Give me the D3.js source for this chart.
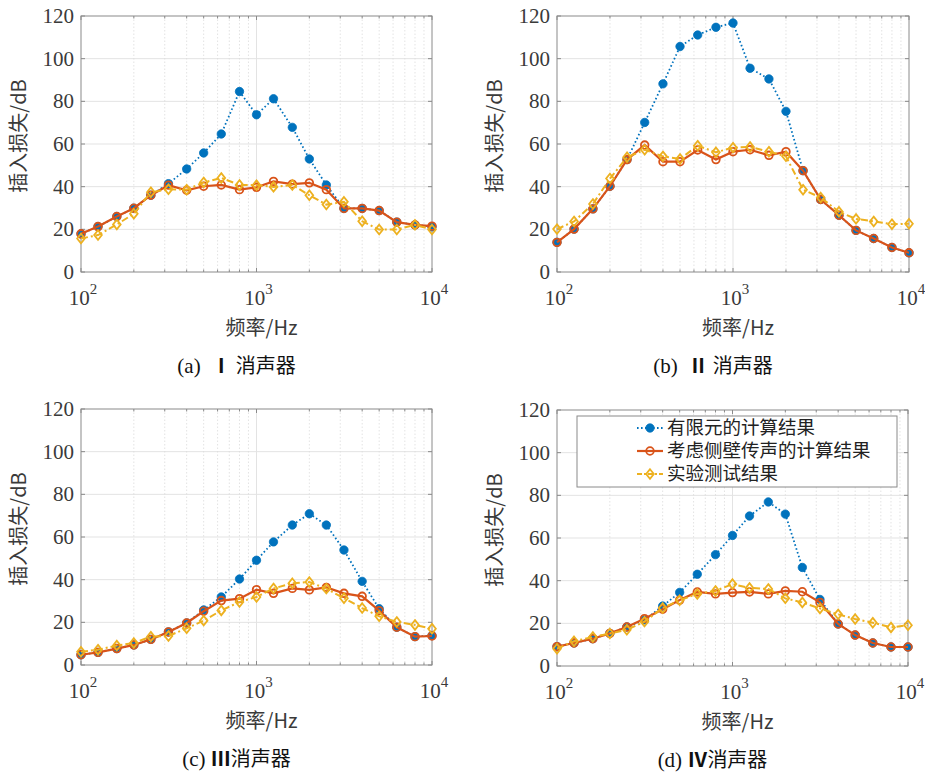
<!DOCTYPE html>
<html>
<head>
<meta charset="utf-8">
<script src="https://cdn.jsdelivr.net/npm/d3@7"></script>
<style>
  body { margin: 0; background: #fff; }
  svg { display: block; }
</style>
</head>
<body>
<div id="chart"></div>
<script>
// 1/3 octave band centre frequencies
const freqs = [100, 125, 160, 200, 250, 315, 400, 500, 630, 800, 1000, 1250, 1600, 2000, 2500, 3150, 4000, 5000, 6300, 8000, 10000];

// (a) muffler I
const femA  = [17.9, 21.3, 26, 29.9, 36, 41.4, 48.3, 55.8, 64.7, 84.6, 73.7, 81.2, 67.8, 53, 40.8, 29.8, 29.8, 28.8, 23.4, 22.1, 21.2];
const sideA = [17.9, 21.3, 26, 29.9, 36, 40.7, 38.3, 40.2, 40.8, 38.6, 39.7, 42.5, 41.2, 41.8, 38.6, 29.8, 29.8, 28.8, 23.4, 22.1, 21.5];
const testA = [15.7, 17.3, 22.3, 27.3, 37.4, 38.8, 38.6, 42, 44.1, 40.8, 40.7, 39.9, 40.8, 36, 31.6, 32.9, 23.8, 19.9, 19.9, 22.1, 19.9];

// (b) muffler II
const femB  = [13.9, 20.1, 29.6, 40.2, 52.7, 70.1, 88.2, 105.7, 111.1, 114.7, 116.7, 95.5, 90.5, 75.3, 47.5, 34, 26.6, 19.5, 15.7, 11.5, 9];
const sideB = [13.9, 20.1, 29.6, 40.2, 52.7, 59.5, 51.7, 51.7, 57.2, 52.7, 56.4, 57.3, 54.7, 56.4, 47.5, 34, 26.6, 19.5, 15.7, 11.5, 9];
const testB = [20.1, 23.7, 31.9, 43.8, 53.8, 57.3, 54.2, 53, 59.2, 56.1, 58.3, 58.6, 56.4, 54.2, 38.6, 34.9, 28.2, 24.9, 23.7, 22.4, 22.6];

// (c) muffler III
const femC  = [4.8, 5.9, 7.7, 9.4, 12, 15.5, 19.7, 25.8, 31.9, 40.3, 49.1, 57.7, 65.6, 70.9, 65.6, 53.9, 39.2, 26.4, 17.7, 13.3, 13.8];
const sideC = [4.8, 5.9, 7.7, 9.4, 12, 15.5, 19.7, 25.2, 30.2, 31.1, 35.3, 33.6, 35.9, 35.2, 36.4, 33.6, 32.2, 25.5, 17.7, 13.3, 13.6];
const testC = [6.2, 7.2, 9.1, 10.3, 13.3, 13.6, 17.2, 20.8, 25.6, 29.5, 31.9, 35.9, 38.3, 38.9, 35.8, 31.3, 26.7, 22.8, 20.2, 18.8, 17];

// (d) muffler IV
const femD  = [9.1, 10.8, 12.8, 15.3, 18.3, 21.6, 28.1, 34.5, 43, 52.2, 61.2, 70.3, 76.9, 71.2, 46.2, 31.2, 19.7, 14.5, 10.8, 8.9, 8.9];
const sideD = [9.1, 10.8, 12.8, 15.3, 18.3, 22.2, 26.6, 30.9, 34.7, 33.8, 34.4, 34.7, 33.8, 35.2, 34.8, 29.8, 19.7, 14.5, 10.8, 8.9, 8.9];
const testD = [8.1, 11.6, 13.6, 15.2, 17, 20.8, 27.2, 30.8, 33.8, 35.2, 38.4, 36.6, 36.1, 31.7, 29.8, 27, 24.2, 22, 20.3, 18.1, 19.1];

const seriesNames = ["有限元的计算结果", "考虑侧壁传声的计算结果", "实验测试结果"];
const captionTags = ["(a)", "(b)", "(c)", "(d)"];
const captionNums = ["Ⅰ", "Ⅱ", "Ⅲ", "Ⅳ"];
const captionText = "消声器";
const yTicks = [0, 20, 40, 60, 80, 100, 120];
const xTicks = [100, 1000, 10000];
const xTickExp = ["2", "3", "4"];

const colors = ["#0072BD", "#D95319", "#EDB120"];

var W = 925, H = 772;
var svg = d3.select("#chart").append("svg")
    .attr("width", W)
    .attr("height", H);

// plot areas of the four panels
const panels = [
  { left: 81, right: 432, top: 16, bottom: 272, data: [femA, sideA, testA] },
  { left: 557, right: 909, top: 16, bottom: 272, data: [femB, sideB, testB] },
  { left: 81, right: 432, top: 409, bottom: 665, data: [femC, sideC, testC] },
  { left: 557, right: 908, top: 410, bottom: 666, data: [femD, sideD, testD] }
];

const serif = "'Liberation Serif', 'Times New Roman', serif";
const cjk = "'Noto Sans CJK SC', sans-serif";
const axisColor = "#8a8a8a";
const textColor = "#3a3a3a";

// minor tick positions for the log axis
const minorX = [];
[100, 1000].forEach(d => { for (let k = 2; k <= 9; k++) minorX.push(d * k); });

function drawMarker(g, kind, x0, y0) {
  if (kind === 0) {
    g.append("circle").attr("cx", x0).attr("cy", y0).attr("r", 4.2)
      .attr("fill", colors[0]).attr("stroke", colors[0]).attr("stroke-width", 0.8);
  } else if (kind === 1) {
    g.append("circle").attr("cx", x0).attr("cy", y0).attr("r", 3.8)
      .attr("fill", "none").attr("stroke", colors[1]).attr("stroke-width", 1.8);
  } else {
    const s = 4.8;
    g.append("path")
      .attr("d", `M${x0},${y0 - s}L${x0 + s * 0.8},${y0}L${x0},${y0 + s}L${x0 - s * 0.8},${y0}Z`)
      .attr("fill", "none").attr("stroke", colors[2]).attr("stroke-width", 1.8);
  }
}

const dashes = ["1.6,2.4", null, "7,3,2,3"];
const widths = [1.8, 2.2, 2];

panels.forEach((p, pi) => {
  var x = d3.scaleLog().domain([100, 10000]).range([p.left, p.right]);
  var y = d3.scaleLinear().domain([0, 120]).range([p.bottom, p.top]);
  var g = svg.append("g");

  // grid
  g.selectAll(".ygrid").data(yTicks.slice(1, -1)).enter().append("line")
    .attr("x1", p.left).attr("x2", p.right)
    .attr("y1", d => y(d)).attr("y2", d => y(d))
    .attr("stroke", "#e3e3e3").attr("stroke-width", 1);
  g.selectAll(".xgrid").data([1000]).enter().append("line")
    .attr("x1", d => x(d)).attr("x2", d => x(d))
    .attr("y1", p.top).attr("y2", p.bottom)
    .attr("stroke", "#e3e3e3").attr("stroke-width", 1);
  g.selectAll(".xminor").data(minorX).enter().append("line")
    .attr("x1", d => x(d)).attr("x2", d => x(d))
    .attr("y1", p.top).attr("y2", p.bottom)
    .attr("stroke", "#dcdcdc").attr("stroke-width", 0.8)
    .attr("stroke-dasharray", "1.5,2");

  // axes box
  g.append("rect")
    .attr("x", p.left).attr("y", p.top)
    .attr("width", p.right - p.left).attr("height", p.bottom - p.top)
    .attr("fill", "none").attr("stroke", axisColor).attr("stroke-width", 1);

  // ticks (inward, all sides)
  yTicks.forEach(t => {
    g.append("line").attr("x1", p.left).attr("x2", p.left + 4)
      .attr("y1", y(t)).attr("y2", y(t)).attr("stroke", axisColor);
    g.append("line").attr("x1", p.right).attr("x2", p.right - 4)
      .attr("y1", y(t)).attr("y2", y(t)).attr("stroke", axisColor);
  });
  xTicks.concat(minorX).forEach(t => {
    const len = xTicks.includes(t) ? 4 : 2.5;
    g.append("line").attr("x1", x(t)).attr("x2", x(t))
      .attr("y1", p.bottom).attr("y2", p.bottom - len).attr("stroke", axisColor);
    g.append("line").attr("x1", x(t)).attr("x2", x(t))
      .attr("y1", p.top).attr("y2", p.top + len).attr("stroke", axisColor);
  });

  // y tick labels
  g.selectAll(".ylab").data(yTicks).enter().append("text")
    .attr("x", p.left - 7)
    .attr("y", d => y(d) + 7)
    .attr("text-anchor", "end")
    .style("font-family", serif).style("font-size", "21px")
    .attr("fill", textColor)
    .text(d => d);

  // x tick labels 10^n
  xTicks.forEach((t, i) => {
    const tx = g.append("text")
      .attr("x", x(t) + 2).attr("y", p.bottom + 33)
      .attr("text-anchor", "middle")
      .style("font-family", serif).style("font-size", "21px")
      .attr("fill", textColor);
    tx.append("tspan").text("10");
    tx.append("tspan").attr("dy", -11).style("font-size", "15px").text(xTickExp[i]);
  });

  // axis titles
  g.append("text")
    .attr("x", (p.left + p.right) / 2 + 5).attr("y", p.bottom + 63)
    .attr("text-anchor", "middle")
    .style("font-family", cjk).style("font-size", "20px")
    .attr("fill", textColor)
    .text("频率/Hz");
  g.append("text")
    .attr("transform", `translate(${p.left - 55},${(p.top + p.bottom) / 2 - 8}) rotate(-90)`)
    .attr("text-anchor", "middle")
    .style("font-family", cjk).style("font-size", "20px")
    .attr("fill", textColor)
    .text("插入损失/dB");

  // caption
  const cap = g.append("text")
    .attr("x", (p.left + p.right) / 2 - 20).attr("y", p.bottom + 101)
    .attr("text-anchor", "middle")
    .style("font-family", serif).style("font-size", "21px")
    .attr("fill", "#111");
  cap.append("tspan").text(captionTags[pi] + (pi < 2 ? "\u00a0\u00a0" : "\u00a0"));
  cap.append("tspan").style("font-family", cjk).style("font-weight", "bold")
    .style("font-size", "20px").text(captionNums[pi]);
  cap.append("tspan").style("font-family", cjk).style("font-size", "20px")
    .text((pi < 2 ? "\u00a0" : "") + captionText);

  // series
  p.data.forEach((vals, si) => {
    const pts = freqs.map((f, i) => [x(f), y(vals[i])]);
    const line = g.append("path")
      .attr("d", d3.line()(pts))
      .attr("fill", "none")
      .attr("stroke", colors[si])
      .attr("stroke-width", widths[si]);
    if (dashes[si]) line.attr("stroke-dasharray", dashes[si]);
    const mg = g.append("g");
    pts.forEach(pt => drawMarker(mg, si, pt[0], pt[1]));
  });

  // legend in panel (d)
  if (pi === 3) {
    const lg = g.append("g");
    lg.append("rect")
      .attr("x", 577).attr("y", 416)
      .attr("width", 320).attr("height", 71)
      .attr("fill", "#fff").attr("stroke", "#8a8a8a").attr("stroke-width", 1);
    seriesNames.forEach((name, si) => {
      const ly = 428 + si * 23;
      const l = lg.append("line")
        .attr("x1", 637).attr("x2", 663).attr("y1", ly).attr("y2", ly)
        .attr("stroke", colors[si]).attr("stroke-width", widths[si]);
      if (dashes[si]) l.attr("stroke-dasharray", si === 2 ? "5,2,2,2" : dashes[si]);
      drawMarker(lg, si, 650, ly);
      lg.append("text")
        .attr("x", 667).attr("y", ly + 6)
        .style("font-family", cjk).style("font-size", "18.5px")
        .attr("fill", "#222")
        .text(name);
    });
  }
});
</script>
</body>
</html>
